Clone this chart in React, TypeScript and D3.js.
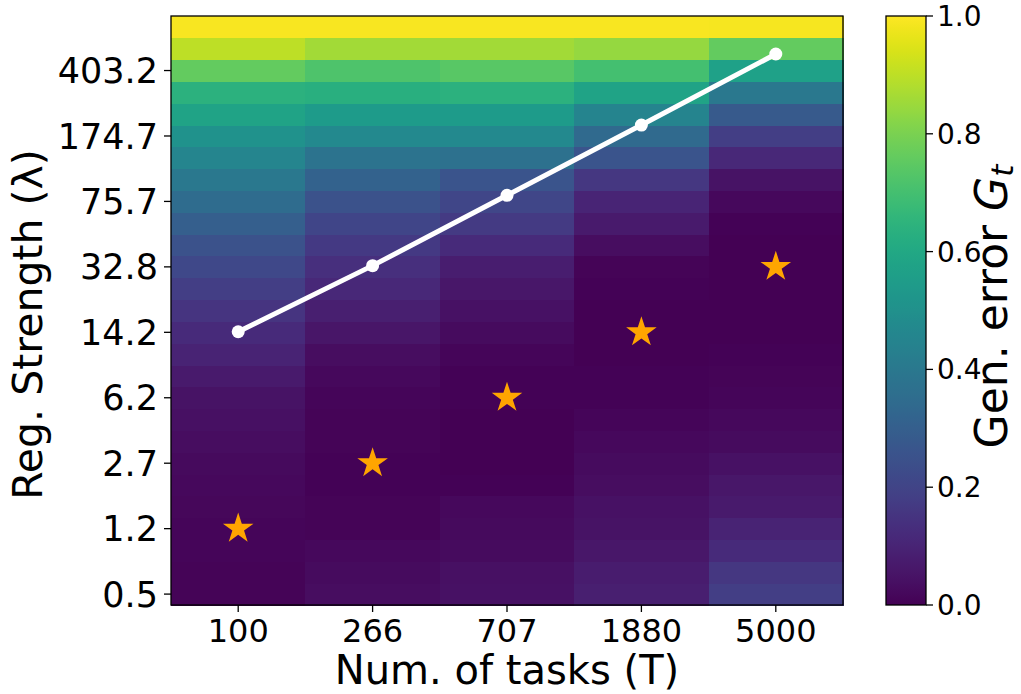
import React, { useEffect, useRef } from 'react';
import * as d3 from 'd3';

// Columns: number of tasks T
const tasks = ['100', '266', '707', '1880', '5000'];

// Rows: 27 regularisation strengths (log spaced), labelled every 3rd row
const nRows = 27;
const tickRows = [0, 3, 6, 9, 12, 15, 18, 21, 24];
const lambdaTicks = ['0.5', '1.2', '2.7', '6.2', '14.2', '32.8', '75.7', '174.7', '403.2'];

// Generalisation error per column, from smallest lambda (bottom) to largest (top)
const err100 = [0.010, 0.010, 0.012, 0.014, 0.017, 0.020, 0.025, 0.032, 0.040, 0.050, 0.070, 0.095, 0.120, 0.150, 0.180, 0.215, 0.250, 0.300, 0.350, 0.400, 0.455, 0.505, 0.580, 0.640, 0.760, 0.900, 0.990];
const err266 = [0.035, 0.030, 0.022, 0.010, 0.008, 0.006, 0.006, 0.008, 0.010, 0.014, 0.020, 0.035, 0.055, 0.085, 0.110, 0.135, 0.165, 0.205, 0.250, 0.310, 0.380, 0.470, 0.545, 0.630, 0.720, 0.860, 0.990];
const err707 = [0.045, 0.040, 0.030, 0.025, 0.020, 0.004, 0.002, 0.002, 0.003, 0.004, 0.006, 0.012, 0.030, 0.045, 0.060, 0.080, 0.120, 0.170, 0.210, 0.260, 0.370, 0.470, 0.545, 0.640, 0.740, 0.860, 0.990];
const err1880 = [0.085, 0.075, 0.060, 0.050, 0.045, 0.035, 0.030, 0.020, 0.012, 0.006, 0.004, 0.003, 0.003, 0.003, 0.004, 0.008, 0.035, 0.070, 0.100, 0.160, 0.260, 0.340, 0.450, 0.580, 0.700, 0.840, 0.990];
const err5000 = [0.180, 0.160, 0.120, 0.095, 0.070, 0.060, 0.045, 0.030, 0.020, 0.012, 0.008, 0.004, 0.003, 0.003, 0.003, 0.003, 0.003, 0.005, 0.020, 0.050, 0.110, 0.180, 0.280, 0.400, 0.570, 0.760, 0.985];
const errColumns = [err100, err266, err707, err1880, err5000];

// Best lambda found (row index) and theoretical lambda per T
const starRows = [3, 6, 9, 12, 15];
const theoryLambda = [14.3, 33.3, 81.8, 200.8, 498];

const cbarTicks = [0, 0.2, 0.4, 0.6, 0.8, 1.0];

const App = () => {
    const ref = useRef(null);

    useEffect(() => {
        const svg = d3.select(ref.current);
        svg.selectAll('*').remove();

        const width = 1021;
        const height = 694;
        const left = 171, right = 843, top = 16, bottom = 605;
        const font = '"DejaVu Sans", sans-serif';

        svg.attr('viewBox', [0, 0, width, height]);

        const x = d3.scaleBand().domain(tasks).range([left, right]).padding(0);
        const y = d3.scaleBand().domain(d3.range(nRows).map(String)).range([bottom, top]).padding(0);
        const yc = (i) => y(String(i)) + y.bandwidth() / 2;
        const yLog = d3.scaleLog()
            .domain([+lambdaTicks[0], +lambdaTicks[lambdaTicks.length - 1]])
            .range([yc(tickRows[0]), yc(tickRows[tickRows.length - 1])]);
        const color = d3.scaleSequential(d3.interpolateViridis).domain([0, 1]);

        // heatmap cells
        const cells = [];
        errColumns.forEach((col, c) => col.forEach((v, r) => cells.push({ c, r, v })));
        svg.append('g')
            .attr('shape-rendering', 'crispEdges')
            .selectAll('rect')
            .data(cells)
            .join('rect')
            .attr('x', d => x(tasks[d.c]))
            .attr('y', d => y(String(d.r)))
            .attr('width', x.bandwidth() + 0.5)
            .attr('height', y.bandwidth() + 0.5)
            .attr('fill', d => color(d.v));

        // theory line
        const pts = theoryLambda.map((l, i) => [x(tasks[i]) + x.bandwidth() / 2, yLog(l)]);
        svg.append('path')
            .attr('d', d3.line()(pts))
            .attr('fill', 'none')
            .attr('stroke', 'white')
            .attr('stroke-width', 5);
        svg.append('g')
            .selectAll('circle')
            .data(pts)
            .join('circle')
            .attr('cx', d => d[0])
            .attr('cy', d => d[1])
            .attr('r', 6.5)
            .attr('fill', 'white');

        // best lambda stars
        svg.append('g')
            .selectAll('path')
            .data(starRows)
            .join('path')
            .attr('d', d3.symbol(d3.symbolStar, 290)())
            .attr('transform', (r, i) => `translate(${x(tasks[i]) + x.bandwidth() / 2},${yc(r)})`)
            .attr('fill', '#ffa500');

        // frame
        svg.append('rect')
            .attr('x', left).attr('y', top)
            .attr('width', right - left).attr('height', bottom - top)
            .attr('fill', 'none').attr('stroke', 'black').attr('stroke-width', 1.3);

        // y axis
        const yAxis = svg.append('g').attr('font-family', font).attr('font-size', 35);
        tickRows.forEach((r, i) => {
            yAxis.append('line')
                .attr('x1', left - 7).attr('x2', left)
                .attr('y1', yc(r)).attr('y2', yc(r))
                .attr('stroke', 'black').attr('stroke-width', 1.3);
            yAxis.append('text')
                .attr('x', left - 13).attr('y', yc(r)).attr('dy', '0.36em')
                .attr('text-anchor', 'end')
                .text(lambdaTicks[i]);
        });
        svg.append('text')
            .attr('transform', `translate(42,${(top + bottom) / 2 + 14}) rotate(-90)`)
            .attr('text-anchor', 'middle')
            .attr('font-family', font).attr('font-size', 41)
            .text('Reg. Strength (λ)');

        // x axis
        const xAxis = svg.append('g').attr('font-family', font).attr('font-size', 32);
        tasks.forEach(t => {
            const cx = x(t) + x.bandwidth() / 2;
            xAxis.append('line')
                .attr('x1', cx).attr('x2', cx)
                .attr('y1', bottom).attr('y2', bottom + 7)
                .attr('stroke', 'black').attr('stroke-width', 1.3);
            xAxis.append('text')
                .attr('x', cx).attr('y', 642)
                .attr('text-anchor', 'middle')
                .text(t);
        });
        svg.append('text')
            .attr('x', (left + right) / 2).attr('y', 684)
            .attr('text-anchor', 'middle')
            .attr('font-family', font).attr('font-size', 40)
            .text('Num. of tasks (T)');

        // colorbar
        const cbLeft = 886, cbWidth = 40;
        const cb = d3.scaleLinear().domain([0, 1]).range([bottom, top]);
        const grad = svg.append('defs').append('linearGradient')
            .attr('id', 'viridis-grad')
            .attr('x1', 0).attr('y1', 1).attr('x2', 0).attr('y2', 0);
        grad.selectAll('stop')
            .data(d3.range(0, 1.0001, 0.02))
            .join('stop')
            .attr('offset', d => d)
            .attr('stop-color', d => color(d));
        svg.append('rect')
            .attr('x', cbLeft).attr('y', top)
            .attr('width', cbWidth).attr('height', bottom - top)
            .attr('fill', 'url(#viridis-grad)')
            .attr('stroke', 'black').attr('stroke-width', 1.3);
        const cbAxis = svg.append('g').attr('font-family', font).attr('font-size', 28);
        cbarTicks.forEach(v => {
            cbAxis.append('line')
                .attr('x1', cbLeft + cbWidth).attr('x2', cbLeft + cbWidth + 7)
                .attr('y1', cb(v)).attr('y2', cb(v))
                .attr('stroke', 'black').attr('stroke-width', 1.3);
            cbAxis.append('text')
                .attr('x', cbLeft + cbWidth + 11).attr('y', cb(v)).attr('dy', '0.36em')
                .text(v.toFixed(1));
        });
        const cbLabel = svg.append('text')
            .attr('transform', `translate(1007,${(top + bottom) / 2 - 4}) rotate(-90)`)
            .attr('text-anchor', 'middle')
            .attr('font-family', font).attr('font-size', 44);
        cbLabel.append('tspan').text('Gen. error ');
        cbLabel.append('tspan').attr('font-style', 'italic').text('G');
        cbLabel.append('tspan').attr('font-style', 'italic').attr('font-size', 31).attr('dy', 6).text('t');
    }, []);

    return (
        <svg ref={ref} width={1021} height={694}
            style={{ position: 'absolute', left: 0, top: 0, display: 'block' }} />
    );
};

export default App;
